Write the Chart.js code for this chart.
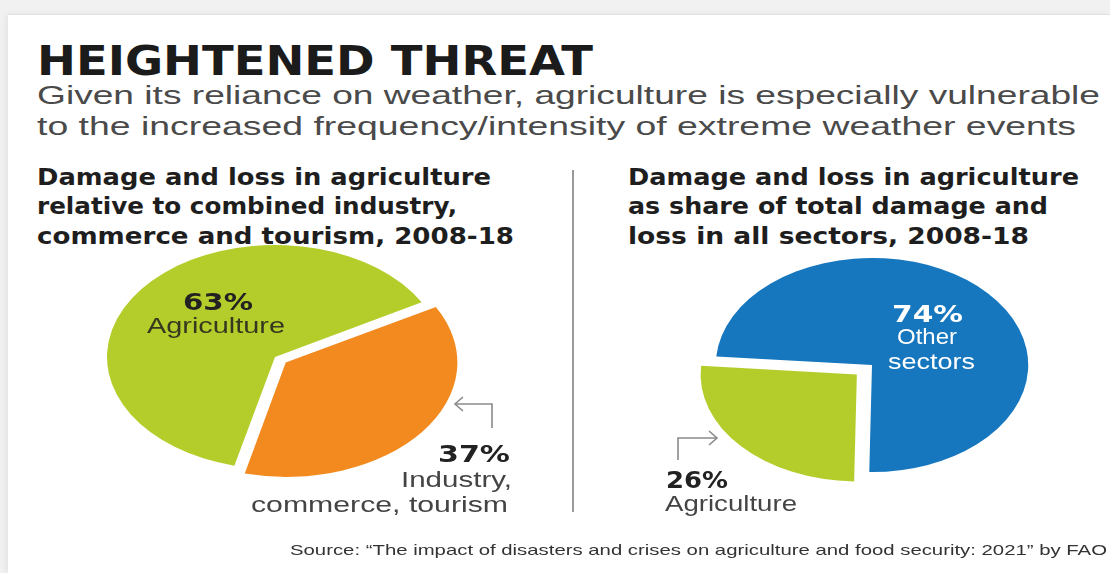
<!DOCTYPE html>
<html>
<head>
<meta charset="utf-8">
<title>Heightened threat</title>
<script src="https://cdn.jsdelivr.net/npm/chart.js@4.4.1/dist/chart.umd.min.js"></script>
<style>
  html, body { margin: 0; padding: 0; }
  body {
    width: 1110px; height: 573px; overflow: hidden; position: relative;
    background: #f1f1f1;
    font-family: "Liberation Sans", Arial, sans-serif;
  }
  .card {
    position: absolute; left: 8px; top: 14px; right: 0; bottom: 0;
    background: #fff; border-top: 1px solid #e2e2e2;
    box-shadow: -2px 0 6px rgba(0,0,0,0.06);
  }
  .t {
    position: absolute; white-space: nowrap; transform-origin: 0 0;
    line-height: 1;
  }
  .title { font-family: "DejaVu Sans", sans-serif; font-weight: bold; font-size: 40px; color: #1b1b1b; }
  .sub { font-size: 26px; color: #4a4a4a; }
  .head { font-family: "DejaVu Sans", sans-serif; font-weight: bold; font-size: 23px; color: #1e1e1e; }
  .pct { font-family: "DejaVu Sans", sans-serif; font-weight: bold; font-size: 23px; color: #222; }
  .lab { font-size: 22px; color: #444; }
  .onGreen { color: #34391f; }
  .white { color: #fff; }
  .src { font-size: 15px; color: #333; }
  .pie { position: absolute; }
  .divider { position: absolute; left: 572px; top: 170px; width: 2px; height: 342px; background: #9a9a9a; }
  svg.marks { position: absolute; left: 0; top: 0; pointer-events: none; }
</style>
</head>
<body>
<div class="card"></div>

<div class="t title" data-x="37" data-base="75" data-w="556">HEIGHTENED THREAT</div>
<div class="t sub" data-x="37" data-base="104" data-w="1063">Given its reliance on weather, agriculture is especially vulnerable</div>
<div class="t sub" data-x="37" data-base="135" data-w="1039">to the increased frequency/intensity of extreme weather events</div>

<div class="t head" data-x="37" data-base="185" data-w="454">Damage and loss in agriculture</div>
<div class="t head" data-x="37" data-base="214" data-w="420">relative to combined industry,</div>
<div class="t head" data-x="37" data-base="244" data-w="477">commerce and tourism, 2008-18</div>

<div class="t head" data-x="628" data-base="185" data-w="451">Damage and loss in agriculture</div>
<div class="t head" data-x="628" data-base="214" data-w="420">as share of total damage and</div>
<div class="t head" data-x="628" data-base="244" data-w="401">loss in all sectors, 2008-18</div>

<div class="divider"></div>

<div class="pie" style="left:65px;top:227px;width:420px;height:260px;"><canvas id="leftPie"></canvas></div>
<div class="pie" style="left:672px;top:235px;width:400px;height:260px;"><canvas id="rightPie"></canvas></div>

<svg class="marks" width="1110" height="573">
  <g fill="none" stroke="#8a8a8a" stroke-width="1.6">
    <path d="M492 428 V404 H455"/>
    <path d="M463 397 L455 404 L463 411"/>
    <path d="M678 460 V438 H717"/>
    <path d="M709 431 L717 438 L709 445"/>
  </g>
</svg>

<div class="t pct" id="pctL0" data-x="183" data-base="310" data-w="70"></div>
<div class="t lab onGreen" data-x="147" data-base="334" data-w="138">Agriculture</div>

<div class="t pct" id="pctL1" data-x="438" data-base="462" data-w="72"></div>
<div class="t lab" data-x="401" data-base="488" data-w="111">Industry,</div>
<div class="t lab" data-x="251" data-base="513" data-w="257">commerce, tourism</div>

<div class="t pct white" id="pctR1" data-x="892" data-base="322" data-w="71"></div>
<div class="t lab white" data-x="897" data-base="345" data-w="60">Other</div>
<div class="t lab white" data-x="888" data-base="370" data-w="87">sectors</div>

<div class="t pct" id="pctR0" data-x="666" data-base="488" data-w="62"></div>
<div class="t lab" data-x="665" data-base="512" data-w="132">Agriculture</div>

<div class="t src" data-x="290" data-base="555" data-w="817">Source: &#8220;The impact of disasters and crises on agriculture and food security: 2021&#8221; by FAO</div>

<script>
  // Data
  const leftCategories = ['Agriculture', 'Industry, commerce, tourism'];
  const leftValues = [63, 37];
  const rightCategories = ['Agriculture', 'Other sectors'];
  const rightValues = [26, 74];

  const GREEN = '#b5cd2b';
  const ORANGE = '#f38a1f';
  const BLUE = '#1677bf';

  // Percent labels come from the values
  document.getElementById('pctL0').textContent = leftValues[0] + '%';
  document.getElementById('pctL1').textContent = leftValues[1] + '%';
  document.getElementById('pctR0').textContent = rightValues[0] + '%';
  document.getElementById('pctR1').textContent = rightValues[1] + '%';

  // Place text by baseline and stretch to the measured width
  document.querySelectorAll('.t').forEach(function(el) {
    const size = parseFloat(getComputedStyle(el).fontSize);
    el.style.left = el.dataset.x + 'px';
    el.style.top = (parseFloat(el.dataset.base) - size * 0.846) + 'px';
    const w = el.getBoundingClientRect().width;
    el.style.transform = 'scaleX(' + (parseFloat(el.dataset.w) / w) + ')';
  });

  // The pies in the graphic are squashed into ellipses
  const ellipsePlugin = {
    id: 'ellipse',
    beforeDatasetsDraw(chart, args, opts) {
      const { ctx, chartArea } = chart;
      const cx = (chartArea.left + chartArea.right) / 2;
      const cy = (chartArea.top + chartArea.bottom) / 2;
      ctx.save();
      ctx.translate(cx, cy);
      ctx.scale(opts.sx, 1);
      ctx.translate(-cx, -cy);
    },
    afterDatasetsDraw(chart) {
      chart.ctx.restore();
    }
  };

  function makePie(id, labels, values, colors, offsets, rotation, radius, sx) {
    return new Chart(document.getElementById(id), {
      type: 'pie',
      data: {
        labels: labels,
        datasets: [{
          data: values,
          backgroundColor: colors,
          borderWidth: 0,
          offset: offsets,
          rotation: rotation,
          radius: radius
        }]
      },
      options: {
        responsive: true,
        maintainAspectRatio: false,
        animation: false,
        events: [],
        layout: { padding: 0 },
        plugins: {
          legend: { display: false },
          tooltip: { enabled: false },
          ellipse: { sx: sx }
        }
      },
      plugins: [ellipsePlugin]
    });
  }

  // arc offset is divided down inside Chart.js, hence the larger numbers
  makePie('leftPie', leftCategories, leftValues, [GREEN, ORANGE], [0, 36], 194, 112, 1.5);
  makePie('rightPie', rightCategories, rightValues, [GREEN, BLUE], [56, 0], 181, 107, 1.46);
</script>
</body>
</html>
